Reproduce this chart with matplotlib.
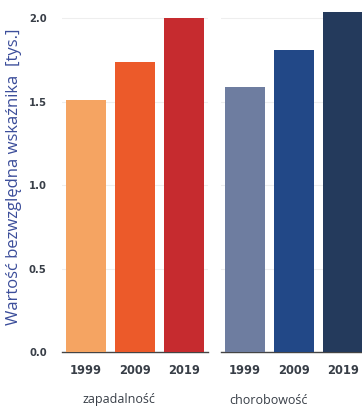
import matplotlib
matplotlib.use("Agg")
import matplotlib.pyplot as plt

years = ["1999", "2009", "2019"]
zapadalnosc = [1.51, 1.74, 2.00]
chorobowosc = [1.59, 1.81, 2.04]
zap_colors = ["#F5A462", "#EC5A2A", "#C62B2F"]
chor_colors = ["#6E7DA0", "#224887", "#243A5C"]
groups = ["zapadalność", "chorobowość"]
yticks = [0.0, 0.5, 1.0, 1.5, 2.0]

fig = plt.figure(figsize=(3.62, 4.08), dpi=100)
W, H = 362, 408
ax1 = fig.add_axes([62 / W, 56 / H, 146 / W, 342 / H])
ax2 = fig.add_axes([221 / W, 56 / H, 146 / W, 342 / H])

tick_color = "#383e47"
for ax, vals, cols in [(ax1, zapadalnosc, zap_colors),
                       (ax2, chorobowosc, chor_colors)]:
    x = list(range(len(years)))
    ax.bar(x, vals, width=0.8, color=cols, zorder=3)
    ax.set_xlim(-0.49, 2.49)
    ax.set_ylim(0, 2.05)
    ax.set_xticks(x)
    ax.set_xticklabels(years, fontsize=8.3, color=tick_color, fontweight="bold")
    ax.set_yticks(yticks)
    ax.yaxis.grid(True, color="#eeeeee", linewidth=0.8, zorder=0)
    for s in ["top", "right", "left"]:
        ax.spines[s].set_visible(False)
    ax.spines["bottom"].set_color("#444444")
    ax.spines["bottom"].set_linewidth(1.0)
    ax.tick_params(axis="x", length=0, pad=9)
    ax.tick_params(axis="y", length=0)

ax1.set_yticklabels([f"{v:.1f}" for v in yticks], fontsize=7.2,
                    color=tick_color, fontweight="bold")
ax1.tick_params(axis="y", pad=11)
ax2.set_yticklabels([])

fig.text(14 / W, 1 - 177 / H, "Wartość bezwzględna wskaźnika  [tys.]",
         rotation=90, ha="center", va="center", fontsize=12,
         family="Open Sans", color="#3B4D9A")
fig.text(119 / W, 1 - 400 / H, groups[0], ha="center", va="center",
         fontsize=9, family="Open Sans", color=tick_color)
fig.text(268 / W, 1 - 400 / H, groups[1], ha="center", va="center",
         fontsize=9, family="Open Sans", color=tick_color)

fig.savefig("out.png", dpi=100)
